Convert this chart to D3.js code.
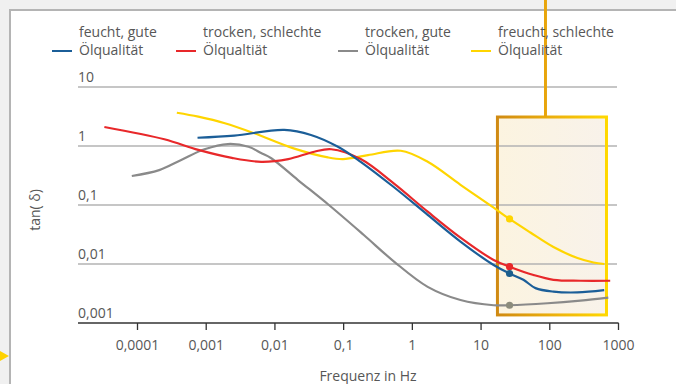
<!DOCTYPE html>
<html>
<head>
<meta charset="utf-8">
<script src="https://cdn.jsdelivr.net/npm/d3@7"></script>
<style>
  html, body { margin: 0; padding: 0; background: #f0f0f0; }
  svg { display: block; }
  text { font-family: "Open Sans", sans-serif; fill: #575757; }
</style>
</head>
<body>
<svg id="chart" width="676" height="384"></svg>
<script>
// ---------- data ----------
const seriesNames = ["feucht, gute|Ölqualität", "trocken, schlechte|Ölqualtiät", "trocken, gute|Ölqualität", "freucht, schlechte|Ölqualität"];
const seriesColors = ["#1b5e98", "#e8282a", "#8a8a8a", "#ffd500"];
const markerColors = ["#1b5e8c", "#e8282a", "#8c8c7c", "#ffd500"];

const blueFreq = [7.6e-4, 2.6e-3, 0.0139, 0.034, 0.084, 0.18, 0.55, 1.7, 5.1, 15.5, 26.4, 42, 63, 115, 257, 630];
const blueTan  = [1.38, 1.5, 1.87, 1.54, 0.97, 0.54, 0.20, 0.068, 0.024, 0.0096, 0.0069, 0.0054, 0.0039, 0.0034, 0.0033, 0.0036];

const redFreq = [3.35e-5, 2.5e-4, 7.8e-4, 2.4e-3, 6.4e-3, 0.0159, 0.038, 0.067, 0.18, 0.55, 1.7, 5.1, 15.5, 26.4, 59, 115, 284, 770];
const redTan  = [2.1, 1.3, 0.86, 0.63, 0.54, 0.60, 0.80, 0.88, 0.60, 0.23, 0.077, 0.028, 0.0117, 0.009, 0.0065, 0.0054, 0.0052, 0.0052];

const grayFreq = [8.4e-5, 2.1e-4, 4.4e-4, 9.6e-4, 2.1e-3, 4.2e-3, 6.4e-3, 9e-3, 0.022, 0.062, 0.2, 0.55, 1.7, 5.1, 15.5, 26.4, 94, 284, 723];
const grayTan  = [0.31, 0.39, 0.58, 0.88, 1.08, 0.97, 0.76, 0.62, 0.265, 0.1, 0.031, 0.011, 0.0041, 0.00245, 0.002, 0.002, 0.00216, 0.0024, 0.0027];

const yellowFreq = [3.8e-4, 7.8e-4, 1.9e-3, 5.1e-3, 0.019, 0.06, 0.10, 0.23, 0.69, 1.7, 5.1, 15.5, 26.4, 53, 115, 257, 440, 630];
const yellowTan  = [3.66, 3.14, 2.43, 1.64, 0.91, 0.64, 0.60, 0.70, 0.83, 0.54, 0.22, 0.09, 0.058, 0.0342, 0.0194, 0.0126, 0.0106, 0.01];

const markerFreq = 26.4;
const markerTan = [0.0069, 0.009, 0.002, 0.058];

const xTicks = [1e-4, 1e-3, 1e-2, 1e-1, 1, 10, 100, 1000];
const xTickLabels = ["0,0001", "0,001", "0,01", "0,1", "1", "10", "100", "1000"];
const yTicks = [10, 1, 0.1, 0.01, 0.001];
const yTickLabels = ["10", "1", "0,1", "0,01", "0,001"];

const highlightFreq = [17.6, 680];
const highlightTan = [3.1, 0.00137];
const pointerFreq = 88;

const xTitle = "Frequenz in Hz";
const yTitle = "tan( δ)";

// ---------- drawing ----------
const svg = d3.select("#chart");
const W = 676, H = 384;
const FS = 14;

const x = d3.scaleLog().domain([1e-4, 1000]).range([137, 618]);
const y = d3.scaleLog().domain([0.001, 10]).range([323, 87]);
const plotLeft = 78, plotRight = 618;

// background panel
svg.append("rect").attr("x", 0).attr("y", 0).attr("width", W).attr("height", H).attr("fill", "#f0f0f0");
svg.append("rect").attr("x", 10).attr("y", 10).attr("width", W).attr("height", H).attr("fill", "#ffffff")
  .attr("stroke", "#b4b4b4").attr("stroke-width", 2);

// left pointer triangle
svg.append("path").attr("d", "M0,351 L9,356 L0,361 Z").attr("fill", "#ffd200");

const defs = svg.append("defs");
const sg = defs.append("linearGradient").attr("id", "boxStroke").attr("x1", "0").attr("x2", "1").attr("y1", "0").attr("y2", "0");
sg.append("stop").attr("offset", "0%").attr("stop-color", "#d08a12");
sg.append("stop").attr("offset", "55%").attr("stop-color", "#eeb30c");
sg.append("stop").attr("offset", "100%").attr("stop-color", "#ffd800");
const fg = defs.append("linearGradient").attr("id", "boxFill").attr("x1", "0").attr("x2", "1").attr("y1", "0").attr("y2", "0");
fg.append("stop").attr("offset", "0%").attr("stop-color", "#fcf4e0");
fg.append("stop").attr("offset", "100%").attr("stop-color", "#f8f2ea");

// highlight box fill
const bx0 = x(highlightFreq[0]), bx1 = x(highlightFreq[1]);
const by0 = y(highlightTan[0]), by1 = y(highlightTan[1]);
svg.append("rect").attr("x", bx0).attr("y", by0).attr("width", bx1 - bx0).attr("height", by1 - by0)
  .attr("fill", "url(#boxFill)");

// gridlines
yTicks.slice(0, 4).forEach(t => {
  svg.append("line").attr("x1", plotLeft).attr("x2", plotRight - 1).attr("y1", y(t)).attr("y2", y(t))
    .attr("stroke", "#b3b3b3").attr("stroke-width", 1.6);
});
// y tick labels
yTicks.forEach((t, i) => {
  svg.append("text").attr("x", plotLeft).attr("y", y(t) - 5).attr("font-size", FS).text(yTickLabels[i]);
});

// x axis
const xAxis = d3.axisBottom(x).tickValues(xTicks).tickSize(7).tickSizeOuter(0).tickFormat((d, i) => xTickLabels[i]);
const ax = svg.append("g").attr("transform", `translate(0,${y(0.001)})`).call(xAxis);
ax.select(".domain").remove();
ax.selectAll(".tick line").attr("stroke", "#333").attr("stroke-width", 1.3);
ax.selectAll(".tick text").attr("font-size", FS).attr("dy", 0).attr("y", 27).style("font-family", "'Open Sans', sans-serif").attr("fill", "#575757");
svg.append("line").attr("x1", plotLeft).attr("x2", plotRight + 0.6).attr("y1", y(0.001)).attr("y2", y(0.001))
  .attr("stroke", "#333").attr("stroke-width", 1.6);

// axis titles
svg.append("text").attr("x", 368).attr("y", 381).attr("text-anchor", "middle").attr("font-size", FS).text(xTitle);
svg.append("text").attr("transform", "translate(40,210) rotate(-90)").attr("text-anchor", "middle").attr("font-size", FS).text(yTitle);

// highlight box stroke + pointer line
svg.append("rect").attr("x", bx0).attr("y", by0).attr("width", bx1 - bx0).attr("height", by1 - by0)
  .attr("fill", "none").attr("stroke", "url(#boxStroke)").attr("stroke-width", 3);
svg.append("line").attr("x1", x(pointerFreq)).attr("x2", x(pointerFreq)).attr("y1", 0).attr("y2", by0)
  .attr("stroke", "#e8a50c").attr("stroke-width", 3);

// curves
const line = d3.line().x(d => x(d[0])).y(d => y(d[1])).curve(d3.curveCatmullRom.alpha(0.5));
const allSeries = [
  d3.zip(blueFreq, blueTan),
  d3.zip(redFreq, redTan),
  d3.zip(grayFreq, grayTan),
  d3.zip(yellowFreq, yellowTan)
];
const order = [2, 3, 1, 0];
order.forEach(i => {
  svg.append("path").attr("d", line(allSeries[i])).attr("fill", "none")
    .attr("stroke", seriesColors[i]).attr("stroke-width", 2.2);
});
order.forEach(i => {
  svg.append("circle").attr("cx", x(markerFreq)).attr("cy", y(markerTan[i])).attr("r", 3.6).attr("fill", markerColors[i]);
});

// legend
const legendX = [52, 176, 338, 471];
seriesNames.forEach((name, i) => {
  const g = svg.append("g");
  g.append("line").attr("x1", legendX[i]).attr("x2", legendX[i] + 20).attr("y1", 51).attr("y2", 51)
    .attr("stroke", seriesColors[i]).attr("stroke-width", 2);
  const parts = name.split("|");
  g.append("text").attr("x", legendX[i] + 27).attr("y", 37).attr("font-size", FS).text(parts[0]);
  g.append("text").attr("x", legendX[i] + 27).attr("y", 55).attr("font-size", FS).text(parts[1]);
});
</script>
</body>
</html>
